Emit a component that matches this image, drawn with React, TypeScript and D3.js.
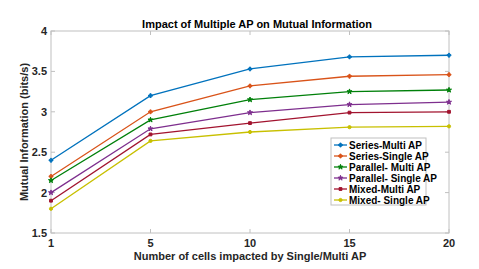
import React from "react";
import * as d3 from "d3";

const cells = ["1", "5", "10", "15", "20"];
const seriesNames = [
  "Series-Multi AP",
  "Series-Single AP",
  "Parallel- Multi AP",
  "Parallel- Single AP",
  "Mixed-Multi AP",
  "Mixed- Single AP",
];
const seriesMultiAP = [2.4, 3.2, 3.53, 3.68, 3.7];
const seriesSingleAP = [2.2, 3.0, 3.32, 3.44, 3.46];
const parallelMultiAP = [2.15, 2.9, 3.15, 3.25, 3.27];
const parallelSingleAP = [2.0, 2.79, 2.99, 3.09, 3.12];
const mixedMultiAP = [1.9, 2.72, 2.86, 2.99, 3.0];
const mixedSingleAP = [1.8, 2.64, 2.75, 2.81, 2.82];
const yTicks = [1.5, 2, 2.5, 3, 3.5, 4];

const colors = ["#0072bd", "#d95319", "#00800a", "#7e2f8e", "#a2142f", "#c8c000"];
const markers = [d3.symbolCross, d3.symbolCross, d3.symbolStar, d3.symbolStar, d3.symbolSquare, d3.symbolCircle];

const allSeries = [seriesMultiAP, seriesSingleAP, parallelMultiAP, parallelSingleAP, mixedMultiAP, mixedSingleAP];

const W = 479, H = 269;
const left = 51, right = 449, top = 31, bottom = 233;
const font = "'Liberation Sans', Arial, sans-serif";

export default function App() {
  const x = d3.scalePoint<string>().domain(cells).range([left, right]);
  const y = d3.scaleLinear().domain([1.5, 4]).range([bottom, top]);
  const line = d3.line<number>()
    .x((d, i) => x(cells[i]) as number)
    .y(d => y(d));
  const axisColor = "#c0c0c0";
  const marker = (k: number) => d3.symbol().type(markers[k]).size(8)() as string;

  const legX = 331, legY = 138, legW = 95, legH = 67;

  return (
    <svg width={W} height={H} style={{ position: "absolute", left: 0, top: 0, fontFamily: font }}>
      <rect x={0} y={0} width={W} height={H} fill="#fff" />
      {/* axes box */}
      <rect x={left} y={top} width={right - left} height={bottom - top} fill="none" stroke={axisColor} strokeWidth={1} />
      {cells.map(c => (
        <g key={c}>
          <line x1={x(c)} x2={x(c)} y1={bottom} y2={bottom - 4} stroke={axisColor} />
          <line x1={x(c)} x2={x(c)} y1={top} y2={top + 4} stroke={axisColor} />
          <text x={x(c)} y={247} textAnchor="middle" fontSize={11} fontWeight="bold" fill="#262626">{c}</text>
        </g>
      ))}
      {yTicks.map(t => (
        <g key={t}>
          <line x1={left} x2={left + 4} y1={y(t)} y2={y(t)} stroke={axisColor} />
          <line x1={right} x2={right - 4} y1={y(t)} y2={y(t)} stroke={axisColor} />
          <text x={left - 4} y={y(t) + 4} textAnchor="end" fontSize={11} fontWeight="bold" fill="#262626">{t}</text>
        </g>
      ))}
      <text x={257} y={28} textAnchor="middle" fontSize={11} fontWeight="bold" fill="#000">Impact of Multiple AP on Mutual Information</text>
      <text x={250} y={260} textAnchor="middle" fontSize={11} fontWeight="bold" fill="#262626">Number of cells impacted by Single/Multi AP</text>
      <text transform={`translate(28,${(top + bottom) / 2}) rotate(-90)`} textAnchor="middle" fontSize={11} fontWeight="bold" fill="#262626">Mutual Information (bits/s)</text>

      {allSeries.map((s, k) => (
        <g key={k}>
          <path d={line(s) as string} fill="none" stroke={colors[k]} strokeWidth={1.3} />
          {s.map((v, i) => (
            <path key={i} d={marker(k)}
              transform={`translate(${x(cells[i])},${y(v)})`} fill={colors[k]} stroke={colors[k]} strokeWidth={1} />
          ))}
        </g>
      ))}

      {/* legend */}
      <rect x={legX} y={legY} width={legW} height={legH} fill="#fff" stroke={axisColor} />
      {seriesNames.map((n, k) => {
        const ly = legY + 7 + k * 11;
        return (
          <g key={n}>
            <line x1={legX + 3} x2={legX + 16} y1={ly} y2={ly} stroke={colors[k]} strokeWidth={1.3} />
            <path d={marker(k)} transform={`translate(${legX + 9.5},${ly})`} fill={colors[k]} stroke={colors[k]} />
            <text x={legX + 18} y={ly + 3.5} fontSize={10} fontWeight="bold" fill="#000">{n}</text>
          </g>
        );
      })}
    </svg>
  );
}
